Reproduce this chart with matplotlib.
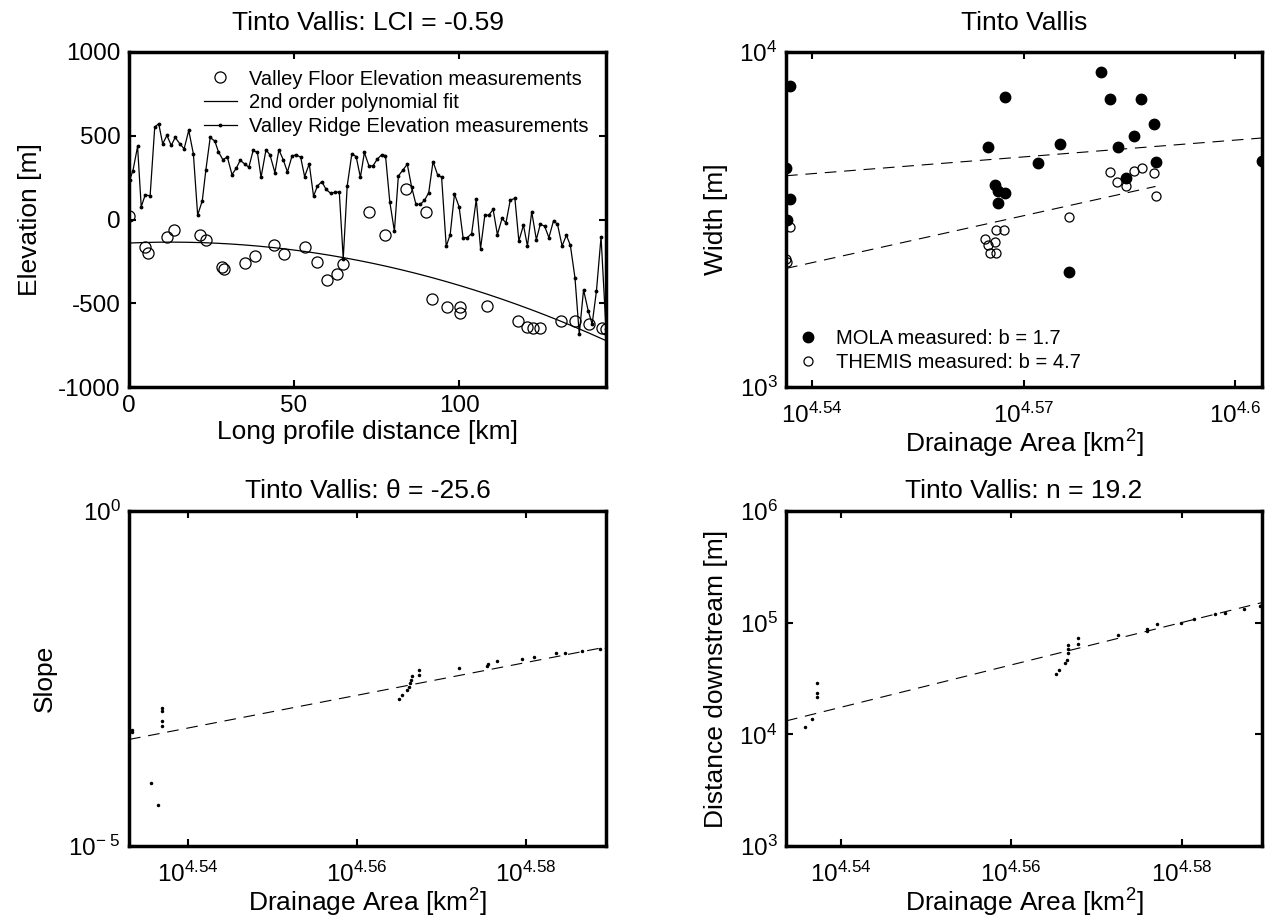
import matplotlib.pyplot as plt
import numpy as np
from matplotlib.ticker import NullLocator

plt.rcParams['font.family'] = ['Liberation Sans', 'DejaVu Sans']
plt.rcParams['mathtext.fontset'] = 'custom'
plt.rcParams['mathtext.rm'] = 'Liberation Sans'
plt.rcParams['mathtext.it'] = 'Liberation Sans:italic'
plt.rcParams['axes.unicode_minus'] = False

# ---- panel 1: long profile ----
ridge_dist = [0.2, 1.2, 2.6, 3.7, 4.9, 6.4, 7.8, 9.0, 10.2, 11.5, 12.8, 14.0, 15.4, 16.7, 18.1,
              19.5, 20.8, 22.2, 23.3, 24.6, 26.0, 27.1, 28.4, 29.8, 31.2, 32.5, 33.7, 35.0, 36.3,
              37.6, 38.9, 40.0, 41.5, 42.7, 44.2, 45.4, 46.7, 48.0, 49.4, 50.6, 52.0, 53.2, 54.6,
              55.9, 57.1, 58.4, 59.7, 61.1, 62.3, 63.7, 64.9, 66.1, 67.5, 68.8, 70.1, 71.3, 72.7,
              73.9, 75.2, 76.5, 77.7, 79.0, 80.4, 81.6, 83.0, 84.3, 85.6, 86.9, 88.2, 89.5, 90.8,
              92.1, 93.5, 94.7, 96.1, 97.3, 98.6, 100.0, 101.2, 102.5, 103.8, 105.2, 106.5, 107.8,
              109.0, 110.3, 111.6, 113.0, 114.2, 115.5, 116.9, 118.1, 119.5, 120.7, 122.0, 123.4,
              124.6, 125.9, 127.2, 128.6, 129.8, 131.2, 132.5, 133.7, 135.1, 136.4, 137.7, 139.1,
              140.3, 141.6, 143.0, 144.5]
ridge_elev = [236, 292, 436, 76, 146, 142, 552, 572, 452, 502, 442, 490, 452, 422, 532,
              392, 26, 112, 298, 490, 468, 404, 358, 372, 268, 306, 354, 332, 312,
              412, 400, 252, 416, 386, 280, 416, 358, 284, 380, 386, 372, 256, 332,
              140, 200, 226, 180, 156, 162, 164, -234, 200, 392, 376, 252, 400, 320,
              320, 360, 386, 382, 106, -70, 260, 296, 330, 196, 92, 90, 114, 160,
              346, 266, 252, -160, -90, 152, 76, -108, -108, -84, 120, -174, 26,
              26, 60, -90, 6, -20, 116, 126, -128, -34, -158, 46, -120,
              -28, -40, -108, -8, -28, -158, -94, -154, -348, -684, -420, -544,
              -624, -428, -104, -654]

floor_dist = [0.0, 4.8, 5.7, 11.6, 13.5, 21.4, 23.3, 28.1, 28.8, 35.0, 38.3, 44.0, 46.9, 53.2,
              57.1, 60.0, 63.1, 64.8, 72.7, 77.6, 84.0, 89.9, 91.9, 96.2, 100.2, 100.2, 108.6,
              117.9, 120.7, 122.5, 124.4, 131.0, 135.1, 139.4, 143.4, 144.5]
floor_elev = [20, -164, -200, -104, -60, -90, -124, -284, -294, -258, -216, -154, -204, -164,
              -254, -360, -324, -264, 46, -90, 182, 46, -474, -524, -524, -560, -514,
              -604, -640, -648, -648, -608, -608, -624, -648, -654]

# ---- panel 2: width vs drainage area (log10 values) ----
mola_logA = [4.5368, 4.5363, 4.5368, 4.5365, 4.5649, 4.5673, 4.5660, 4.5663, 4.5673, 4.5663,
             4.5720, 4.5752, 4.5764, 4.5809, 4.5823, 4.5834, 4.5856, 4.5845, 4.5867, 4.5885,
             4.5887, 4.6038]
mola_logW = [3.900, 3.654, 3.560, 3.499, 3.715, 3.867, 3.603, 3.586, 3.580, 3.550,
             3.670, 3.726, 3.342, 3.939, 3.859, 3.715, 3.750, 3.623, 3.860, 3.785,
             3.673, 3.676]
themis_logA = [4.5368, 4.5363, 4.5364, 4.5645, 4.5649, 4.5660, 4.5652, 4.5661, 4.5661, 4.5672,
               4.5764, 4.5823, 4.5833, 4.5845, 4.5857, 4.5868, 4.5885, 4.5887]
themis_logW = [3.477, 3.381, 3.374, 3.441, 3.424, 3.432, 3.399, 3.399, 3.469, 3.469,
               3.506, 3.643, 3.613, 3.601, 3.646, 3.655, 3.638, 3.570]

# ---- panel 3: slope vs drainage area ----
slope_logA = [4.5333, 4.5333, 4.5356, 4.5364, 4.5369, 4.5369, 4.5369, 4.5369,
              4.5650, 4.5653, 4.5659, 4.5662, 4.5663, 4.5664, 4.5665, 4.5673, 4.5673,
              4.5721, 4.5754, 4.5755, 4.5766, 4.5795, 4.5810, 4.5836, 4.5847, 4.5867,
              4.5888, 4.5895]
slope_logS = [-3.264, -3.300, -4.067, -4.395, -2.940, -2.980, -3.140, -3.210,
              -2.808, -2.743, -2.669, -2.634, -2.569, -2.520, -2.460, -2.371, -2.445,
              -2.346, -2.307, -2.282, -2.232, -2.212, -2.173, -2.123, -2.113, -2.083,
              -2.063, -2.049]
slope_fit_logA = [4.5330, 4.5895]
slope_fit_logS = [-3.41, -2.03]

# ---- panel 4: distance downstream vs drainage area ----
dist_logA = [4.5358, 4.5366, 4.5372, 4.5372, 4.5372, 4.5653, 4.5656, 4.5663, 4.5665,
             4.5667, 4.5667, 4.5667, 4.5678, 4.5678, 4.5725, 4.5759, 4.5759, 4.5771,
             4.5799, 4.5814, 4.5839, 4.5851, 4.5873, 4.5892, 4.5894]
dist_logD = [4.069, 4.135, 4.456, 4.369, 4.330, 4.541, 4.577, 4.640, 4.670,
             4.727, 4.766, 4.796, 4.811, 4.862, 4.892, 4.922, 4.946, 4.985,
             5.000, 5.036, 5.075, 5.087, 5.120, 5.147, 5.165]
dist_fit_logA = [4.5336, 4.5894]
dist_fit_logD = [4.12, 5.18]

titles = ['Tinto Vallis: LCI = -0.59', 'Tinto Vallis',
          'Tinto Vallis: \u03b8 = -25.6', 'Tinto Vallis: n = 19.2']
area_label = 'Drainage Area [km$^2$]'

W, H = 1267, 923
fig = plt.figure(figsize=(W / 100, H / 100), dpi=100)


def box(l, r, t, b):
    return [l / W, 1 - b / H, (r - l) / W, (b - t) / H]


ax1 = fig.add_axes(box(129, 606, 52, 387))
ax2 = fig.add_axes(box(786, 1262, 52, 387))
ax3 = fig.add_axes(box(129, 606, 511, 846))
ax4 = fig.add_axes(box(786, 1262, 511, 846))

for ax in (ax1, ax2, ax3, ax4):
    for s in ax.spines.values():
        s.set_linewidth(2.5)
    ax.tick_params(direction='in', top=True, right=True, length=5, width=1.5,
                   labelsize=17.5, pad=6)

dash = (10.5, 7)

# panel 1
ax1.plot(floor_dist, floor_elev, 'o', mfc='none', mec='k', ms=8, mew=0.9,
         label='Valley Floor Elevation measurements')
coef = np.polyfit(floor_dist, floor_elev, 2)
xx = np.linspace(0, max(ridge_dist), 200)
ax1.plot(xx, np.polyval(coef, xx), 'k-', lw=0.9, label='2nd order polynomial fit')
ax1.plot(ridge_dist, ridge_elev, 'k.-', lw=0.9, ms=3.5,
         label='Valley Ridge Elevation measurements')
ax1.set_xlim(0, max(ridge_dist))
ax1.set_ylim(-1000, 1000)
ax1.set_xticks([0, 50, 100])
ax1.set_yticks([-1000, -500, 0, 500, 1000])
ax1.set_xlabel('Long profile distance [km]', fontsize=19, labelpad=2)
ax1.set_ylabel('Elevation [m]', fontsize=19, labelpad=12)
ax1.legend(loc='upper right', frameon=False, fontsize=14.5, handlelength=1.65,
           borderaxespad=0.47, labelspacing=0.23, handletextpad=0.6)

# panel 2
ax2.plot(10 ** np.array(mola_logA), 10 ** np.array(mola_logW), 'o', color='k', ms=7.5,
         label='MOLA measured: b = 1.7')
ax2.plot(10 ** np.array(themis_logA), 10 ** np.array(themis_logW), 'o', mfc='none',
         mec='k', ms=6.5, mew=0.9, label='THEMIS measured: b = 4.7')
for lx, ly in ((mola_logA, mola_logW), (themis_logA, themis_logW)):
    p = np.polyfit(lx, ly, 1)
    fx = np.array([min(lx), max(lx)])
    ax2.plot(10 ** fx, 10 ** np.polyval(p, fx), 'k--', lw=0.8, dashes=dash)
ax2.set_xlim(10 ** min(mola_logA + themis_logA), 10 ** max(mola_logA + themis_logA))
ax2.set_ylim(1e3, 1e4)

# panel 3
ax3.plot(10 ** np.array(slope_logA), 10 ** np.array(slope_logS), 'k.', ms=3)
ax3.plot(10 ** np.array(slope_fit_logA), 10 ** np.array(slope_fit_logS), 'k--',
         lw=0.8, dashes=dash)
ax3.set_xlim(10 ** slope_fit_logA[0], 10 ** slope_fit_logA[1])
ax3.set_ylim(1e-5, 1)

# panel 4
ax4.plot(10 ** np.array(dist_logA), 10 ** np.array(dist_logD), 'k.', ms=3)
ax4.plot(10 ** np.array(dist_fit_logA), 10 ** np.array(dist_fit_logD), 'k--',
         lw=0.8, dashes=dash)
ax4.set_xlim(10 ** dist_fit_logA[0], 10 ** dist_fit_logA[1])
ax4.set_ylim(1e3, 1e6)

for ax in (ax2, ax3, ax4):
    ax.set_xscale('log')
    ax.set_yscale('log')
    ax.tick_params(axis='x', pad=11)
    ax.set_xlabel(area_label, fontsize=19, labelpad=0)

ax2.set_xticks([10 ** 4.54, 10 ** 4.57, 10 ** 4.6])
ax2.set_xticklabels([r'$10^{4.54}$', r'$10^{4.57}$', r'$10^{4.6}$'])
ax2.set_yticks([1e3, 1e4])
ax2.set_yticklabels([r'$10^{3}$', r'$10^{4}$'])
ax2.set_ylabel('Width [m]', fontsize=19, labelpad=8)
ax2.legend(loc='lower left', frameon=False, fontsize=14.5, handlelength=0.7,
           borderaxespad=0.34, labelspacing=0.23, handletextpad=1.05)

for ax in (ax3, ax4):
    ax.set_xticks([10 ** 4.54, 10 ** 4.56, 10 ** 4.58])
    ax.set_xticklabels([r'$10^{4.54}$', r'$10^{4.56}$', r'$10^{4.58}$'])
ax3.set_yticks([1e-5, 1])
ax3.set_yticklabels([r'$10^{-\ 5}$', r'$10^{0}$'])
ax3.set_ylabel('Slope', fontsize=19, labelpad=8)
ax4.set_yticks([1e3, 1e4, 1e5, 1e6])
ax4.set_yticklabels([r'$10^{3}$', r'$10^{4}$', r'$10^{5}$', r'$10^{6}$'])
ax4.set_ylabel('Distance downstream [m]', fontsize=19, labelpad=8)

for ax in (ax2, ax3, ax4):
    ax.xaxis.set_minor_locator(NullLocator())
    ax.yaxis.set_minor_locator(NullLocator())

for ax, t in zip((ax1, ax2, ax3, ax4), titles):
    ax.set_title(t, fontsize=19, pad=16 if ax in (ax1, ax2) else 9)

fig.savefig('out.png', dpi=100)
